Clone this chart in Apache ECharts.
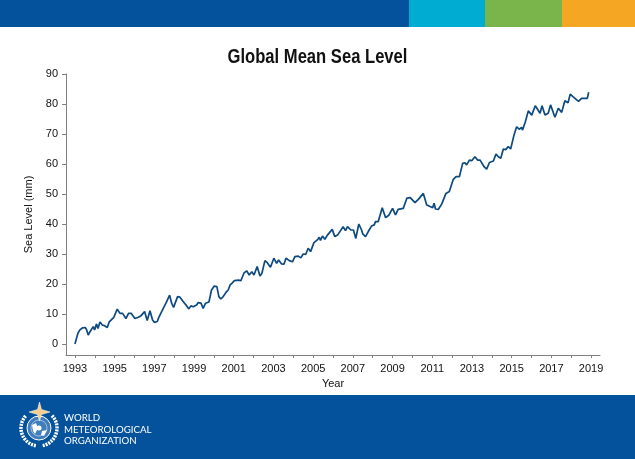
<!DOCTYPE html>
<html>
<head>
<meta charset="utf-8">
<title>Global Mean Sea Level</title>
<style>
html, body { margin: 0; padding: 0; background: #fff; }
#main { width: 635px; height: 459px; }
</style>
<script src="https://cdn.jsdelivr.net/npm/echarts@6/dist/echarts.min.js"></script>
</head>
<body>
<div id="main"></div>
<script>
// values
var years = [1993.0,1993.08,1993.15,1993.25,1993.39,1993.52,1993.59,1993.67,1993.76,1993.84,1993.92,1993.99,1994.09,1994.16,1994.26,1994.38,1994.49,1994.63,1994.73,1994.83,1994.96,1995.13,1995.27,1995.4,1995.48,1995.57,1995.7,1995.84,1996.02,1996.19,1996.31,1996.41,1996.51,1996.64,1996.78,1996.91,1997.01,1997.08,1997.15,1997.22,
  1997.28,1997.45,1997.62,1997.77,1997.87,1997.97,1998.04,1998.17,1998.29,1998.46,1998.63,1998.74,1998.84,1998.96,1999.13,1999.21,1999.35,1999.46,1999.58,1999.75,1999.88,2000.02,2000.15,2000.25,2000.35,2000.47,2000.61,2000.72,2000.82,2000.93,2001.03,2001.11,2001.23,2001.36,
  2001.51,2001.65,2001.78,2001.91,2002.02,2002.18,2002.32,2002.42,2002.57,2002.69,2002.85,2003.02,2003.16,2003.26,2003.41,2003.53,2003.63,2003.8,2003.96,2004.08,2004.25,2004.38,2004.5,2004.63,2004.75,2004.87,2005.04,2005.21,2005.31,2005.37,2005.47,2005.59,
  2005.72,2005.96,2006.09,2006.23,2006.51,2006.63,2006.73,2006.9,2007.03,2007.15,2007.3,2007.44,2007.5,2007.64,2007.77,2007.94,2008.08,2008.14,2008.28,2008.48,2008.65,2008.81,2009.0,2009.15,2009.28,2009.54,2009.72,2009.89,
  2010.13,2010.3,2010.55,2010.72,2010.89,2011.02,2011.09,2011.16,2011.31,2011.48,2011.69,2011.86,2012.06,2012.2,2012.37,2012.53,2012.65,2012.73,2012.87,2012.99,2013.15,2013.29,2013.41,2013.61,2013.74,2013.88,2013.96,2014.08,2014.21,2014.33,2014.45,2014.58,
  2014.7,2014.83,2014.95,2015.12,2015.25,2015.38,2015.5,2015.55,2015.69,2015.84,2016.01,2016.19,2016.43,2016.53,2016.68,2016.84,2016.96,2017.18,2017.35,2017.52,2017.68,2017.84,2017.95,2018.1,2018.37,2018.52,2018.81,2018.88];
var seaLevel = [0,0.2,3.6,4.7,5.4,5.5,4.7,3,4.1,3.9,5.8,4.7,6.7,5.2,7.3,6.3,6.1,5.5,7.4,7.7,8.9,11.6,10.2,10.2,9.7,8.5,10.2,10.2,8.5,8.9,9.3,9.9,10.8,7.8,11.1,8,7.2,6.6,7.5,8.8,
  9.3,11.9,14.1,16.3,13.6,12.2,12.4,15.8,15.6,14.1,12.7,11.7,12.7,12.4,13,13.8,13.6,11.9,13.6,14,18,19.3,19.1,15.8,15,15.8,17.2,18,19.7,20.4,21.1,20.8,21.3,21.1,
  23.6,24.4,23,24.1,23,25.8,22.7,23.6,27.8,27.1,25.6,28.6,26.9,28,26.7,26.6,28.6,27.8,27.4,29.1,29.3,28.7,30,29.9,31.9,30.8,33.8,34.7,35.6,34.5,36,34.9,
  36.3,38.2,35.8,36.3,39.1,37.8,39.1,38,38,35.2,40,38,36.7,35.8,37.4,39.3,39.7,40.8,40.8,45.4,42.1,42.9,45.2,43,44.9,45.2,48.6,48.8,
  47.1,48.2,50.2,46.3,45.8,45.4,46.9,45,44.9,46.7,50.2,50.8,54.9,55.8,55.8,60.2,60.4,59.7,61.3,61.1,62.4,61.3,61.3,59.1,58.3,60.5,60.2,61,63.3,62.4,61.9,65,
  64.8,65.8,65,69.7,72.4,71.6,72.2,71.3,74.1,77.7,76.3,79.4,76.9,79.4,76.3,76.9,79.7,75.6,78.6,77.2,81.1,80.4,83.3,82.4,80.9,81.9,81.9,83.9];
var yearTicks = [1993,1994,1995,1996,1997,1998,1999,2000,2001,2002,2003,2004,2005,2006,2007,2008,2009,2010,2011,2012,2013,2014,2015,2016,2017,2018,2019];
var yearLabels = [1993,1995,1997,1999,2001,2003,2005,2007,2009,2011,2013,2015,2017,2019];
var levelTicks = [0,10,20,30,40,50,60,70,80,90];

var myChart = echarts.init(document.getElementById('main'), null, {renderer: 'canvas'});
var fontName = '"Liberation Sans", Arial, sans-serif';
var footerFont = '9.7px Lato, sans-serif';
var blue = '#04529c';
var axisColor = '#7f7f7f';

var option = {
    animation: false,
    backgroundColor: '#ffffff',
    grid: {left: 66, right: 35, top: 74, bottom: 104},
    xAxis: {
        type: 'value',
        min: 1992.55,
        max: 2019.45,
        name: 'Year',
        nameLocation: 'middle',
        nameGap: 23,
        nameTextStyle: {fontFamily: fontName, fontSize: 11, color: '#111'},
        splitLine: {show: false},
        axisLine: {onZero: false, lineStyle: {color: axisColor, width: 1}},
        axisTick: {show: true, length: 3, customValues: yearTicks, lineStyle: {color: axisColor}},
        axisLabel: {
            customValues: yearLabels,
            margin: 8,
            fontFamily: fontName,
            fontSize: 11,
            color: '#111',
            formatter: function (v) { return String(v); }
        }
    },
    yAxis: {
        type: 'value',
        min: -3.67,
        max: 90,
        name: 'Sea Level (mm)',
        nameLocation: 'middle',
        nameGap: 28,
        nameTextStyle: {fontFamily: fontName, fontSize: 11, color: '#111'},
        splitLine: {show: false},
        axisLine: {show: true, onZero: false, lineStyle: {color: axisColor, width: 1}},
        axisTick: {show: true, length: 4, customValues: levelTicks, lineStyle: {color: axisColor}},
        axisLabel: {
            customValues: levelTicks,
            margin: 8,
            fontFamily: fontName,
            fontSize: 11,
            color: '#111'
        }
    },
    series: [{
        type: 'line',
        data: years.map(function (y, i) { return [y, seaLevel[i]]; }),
        showSymbol: false,
        smooth: false,
        lineStyle: {color: '#0d4a80', width: 1.7},
        silent: true
    }],
    graphic: [
        // top band
        {type: 'rect', shape: {x: 0, y: 0, width: 409, height: 27}, style: {fill: blue}},
        {type: 'rect', shape: {x: 409, y: 0, width: 76, height: 27}, style: {fill: '#00acd2'}},
        {type: 'rect', shape: {x: 485, y: 0, width: 77, height: 27}, style: {fill: '#7ab54c'}},
        {type: 'rect', shape: {x: 562, y: 0, width: 73, height: 27}, style: {fill: '#f5a623'}},
        // title, squeezed because no narrow bold face is installed
        {type: 'text', x: 317.5, y: 47, scaleX: 0.83, style: {text: 'Global Mean Sea Level', fill: '#111', align: 'center', font: 'bold 20px "Liberation Sans", sans-serif'}},
        // footer
        {type: 'rect', shape: {x: 0, y: 395, width: 635, height: 64}, style: {fill: blue}},
        {type: 'text', x: 64, y: 413, style: {text: 'WORLD', fill: '#fff', font: footerFont}},
        {type: 'text', x: 64, y: 424.5, style: {text: 'METEOROLOGICAL', fill: '#fff', font: footerFont}},
        {type: 'text', x: 64, y: 436, style: {text: 'ORGANIZATION', fill: '#fff', font: footerFont}},
        // logo: wreath, globe, star
        {type: 'arc', shape: {cx: 39, cy: 428, r: 18, startAngle: 1.75, endAngle: 3.9}, style: {fill: 'none', stroke: '#fff', lineWidth: 3.5, lineDash: [2, 1]}},
        {type: 'arc', shape: {cx: 39, cy: 428, r: 18, startAngle: -0.76, endAngle: 1.39}, style: {fill: 'none', stroke: '#fff', lineWidth: 3.5, lineDash: [2, 1]}},
        {type: 'circle', shape: {cx: 39, cy: 428, r: 12}, style: {fill: '#3f7dbd', stroke: '#fff', lineWidth: 1}},
        {type: 'circle', shape: {cx: 39, cy: 428, r: 8}, style: {fill: 'none', stroke: '#dfe9f4', lineWidth: 0.6}},
        {type: 'circle', shape: {cx: 39, cy: 428, r: 2.5}, style: {fill: '#fff'}},
        {type: 'polygon', shape: {points: [[32, 425], [36, 423], [38, 428], [35, 434], [33, 431]]}, style: {fill: '#fff'}},
        {type: 'polygon', shape: {points: [[42, 431], [47, 430], [44, 436], [41, 435]]}, style: {fill: '#fff'}},
        {type: 'polygon', shape: {points: [[39.5, 402], [41.5, 409.5], [50, 412], [41.5, 414.5], [39.5, 421], [37.5, 414.5], [29, 412], [37.5, 409.5]]}, style: {fill: '#f6cf8c', stroke: '#fff', lineWidth: 0.5}}
    ]
};
myChart.setOption(option);
</script>
</body>
</html>
